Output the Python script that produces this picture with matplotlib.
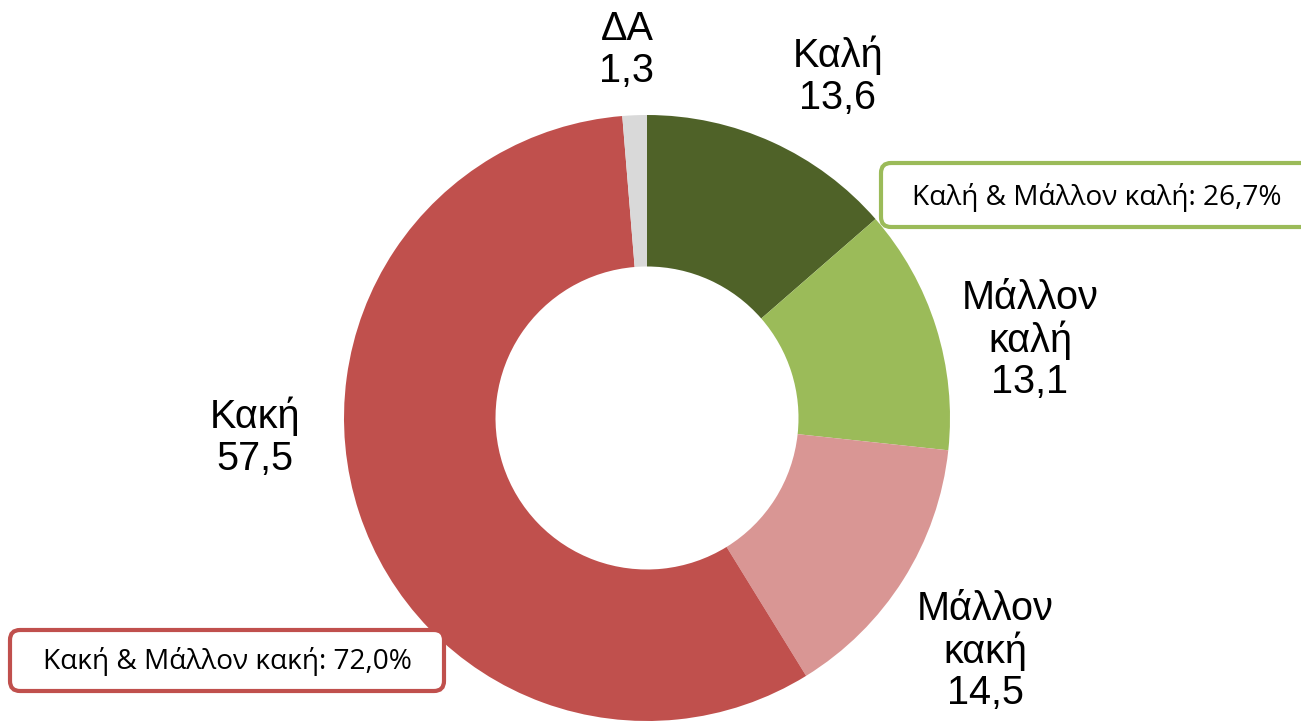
import matplotlib.pyplot as plt
from matplotlib.patches import FancyBboxPatch

# data, clockwise from 12 o'clock
categories = ["Καλή", "Μάλλον\nκαλή", "Μάλλον\nκακή", "Κακή", "ΔΑ"]
values = [13.6, 13.1, 14.5, 57.5, 1.3]
colors = ["#4F6228", "#9BBB59", "#D99694", "#C0504D", "#D9D9D9"]

good_total = "Καλή & Μάλλον καλή: 26,7%"
bad_total = "Κακή & Μάλλον κακή: 72,0%"

W, H = 1301, 724
fig = plt.figure(figsize=(W / 100, H / 100), dpi=100)
ax = fig.add_axes([0, 0, 1, 1])

cx, cy, R = 647, H - 418, 303
ax.pie(values, colors=colors, startangle=90, counterclock=False,
       center=(cx, cy), radius=R, frame=True,
       wedgeprops=dict(width=R * 0.5, linewidth=0))
ax.set_xlim(0, W)
ax.set_ylim(0, H)
ax.axis("off")

# label centres in pixels (x from left, y from top)
label_pos = [(838, 76), (1030, 340), (985, 651), (255, 437), (627, 50)]
for cat, val, (lx, ly) in zip(categories, values, label_pos):
    txt = cat + "\n" + f"{val:.1f}".replace(".", ",")
    ax.text(lx, H - ly, txt, ha="center", va="center", fontsize=28.5,
            family="Liberation Sans", linespacing=1.12)


def total_box(x0, y0, x1, y1, edge):
    box = FancyBboxPatch((x0, H - y1), x1 - x0, y1 - y0,
                         boxstyle="round,pad=0,rounding_size=10",
                         facecolor="white", edgecolor=edge, linewidth=3,
                         zorder=5, clip_on=False)
    ax.add_patch(box)


total_box(881, 163, 1320, 227, "#9BBB59")
ax.text(1097, H - 197, good_total, ha="center", va="center", fontsize=20.2,
        family="Open Sans", zorder=6)
total_box(10, 630, 444, 691, "#C0504D")
ax.text(227, H - 661, bad_total, ha="center", va="center", fontsize=20.2,
        family="Open Sans", zorder=6)

fig.savefig("out.png", dpi=100)
